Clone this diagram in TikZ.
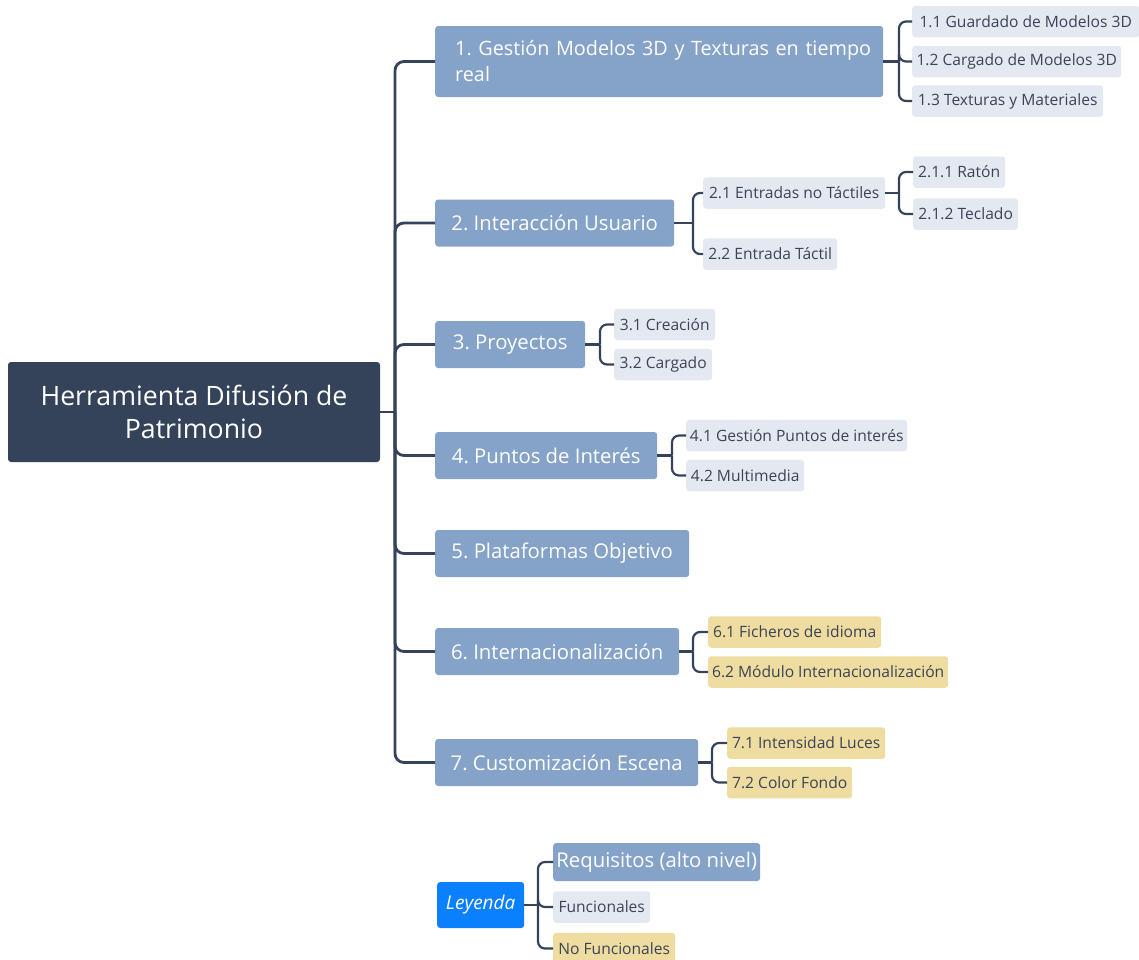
\documentclass[tikz,border=0pt]{standalone}
\usepackage{fontspec}
\setmainfont{Open Sans}
\definecolor{cDark}{HTML}{35435A}
\definecolor{cL1}{HTML}{85A2C9}
\definecolor{cSub}{HTML}{E4E9F1}
\definecolor{cYel}{HTML}{EEDCA0}
\definecolor{cTxt}{HTML}{3B4456}
\definecolor{cBlue}{HTML}{0A80FF}
\begin{document}
\frenchspacing
\begin{tikzpicture}[x=1pt,y=-1pt,
  rootbox/.style={fill=cDark, rounded corners=3pt, text=white, font=\fontsize{26.7}{33}\selectfont, align=center, minimum width=372pt, minimum height=100pt, inner sep=0pt},
  lvl/.style={fill=cL1, rounded corners=3pt, text=white, font=\fontsize{20.3}{26}\selectfont, anchor=west, minimum height=47pt, inner sep=0pt},
  sub/.style={fill=cSub, rounded corners=3pt, text=cTxt, font=\fontsize{15.6}{18}\selectfont, anchor=west, minimum height=31.5pt, inner sep=0pt},
  nfun/.style={sub, fill=cYel},
  conn/.style={draw=cDark, line width=2.2pt, rounded corners=7pt},
  trunk/.style={draw=cDark, line width=2.8pt, rounded corners=9pt}]
\useasboundingbox (0,0) rectangle (1139,959);
% root
\node[rootbox] (root) at (194,412) {Herramienta Difusión de\\Patrimonio};
% level 1
\node[lvl, text width=408pt, align=left, inner xsep=20pt, minimum height=71pt, font=\fontsize{19.8}{26}\selectfont] (n1) at (435,61.5) {\mbox{1. Gestión Modelos 3D y Texturas en tiempo}\\real};
\node[lvl, minimum width=239pt] (n2) at (435,223) {2. Interacción Usuario};
\node[lvl, minimum width=150pt] (n3) at (435,344.5) {3. Proyectos};
\node[lvl, minimum width=222pt] (n4) at (435,455.5) {4. Puntos de Interés};
\node[lvl, minimum width=254pt] (n5) at (435,553.5) {5. Plataformas Objetivo};
\node[lvl, minimum width=244pt] (n6) at (435,651.5) {6. Internacionalización};
\node[lvl, minimum width=263pt] (n7) at (435,762.5) {7. Customización Escena};
% level 2
\node[sub, minimum width=227pt] (s11) at (912,21.5) {1.1 Guardado de Modelos 3D};
\node[sub, minimum width=209pt] (s12) at (912,61.5) {1.2 Cargado de Modelos 3D};
\node[sub, minimum width=191pt] (s13) at (912,101) {1.3 Texturas y Materiales};
\node[sub, minimum width=182pt] (s21) at (703,193) {2.1 Entradas no Táctiles};
\node[sub, minimum width=134pt] (s22) at (703,254) {2.2 Entrada Táctil};
\node[sub, minimum width=92pt] (s211) at (913,172) {2.1.1 Ratón};
\node[sub, minimum width=105pt] (s212) at (913,214) {2.1.2 Teclado};
\node[sub, minimum width=101pt] (s31) at (614,324.5) {3.1 Creación};
\node[sub, minimum width=98pt] (s32) at (614,364.5) {3.2 Cargado};
\node[sub, minimum width=221pt] (s41) at (686,435.5) {4.1 Gestión Puntos de interés};
\node[sub, minimum width=118pt] (s42) at (686,475.5) {4.2 Multimedia};
\node[nfun, minimum width=173pt] (s61) at (708,632) {6.1 Ficheros de idioma};
\node[nfun, minimum width=240pt] (s62) at (708,672) {6.2 Módulo Internacionalización};
\node[nfun, minimum width=158pt] (s71) at (727,743) {7.1 Intensidad Luces};
\node[nfun, minimum width=125pt] (s72) at (727,782.5) {7.2 Color Fondo};
% legend
\node[fill=cBlue, rounded corners=3pt, text=white, font=\fontsize{19}{22}\selectfont\itshape, anchor=west, minimum width=87pt, minimum height=46pt, inner sep=0pt] (ley) at (437,905) {Leyenda};
\node[lvl, minimum width=207pt, minimum height=38pt] (req) at (553,862) {Requisitos (alto nivel)};
\node[sub, minimum width=97pt] (fun) at (553,907) {Funcionales};
\node[nfun, minimum width=122pt] (nofun) at (553,948.5) {No Funcionales};
% junction coordinates
\coordinate (jr) at (395,412);
\coordinate (j1) at (899,61.5);
\coordinate (j2) at (693,223);
\coordinate (j21) at (899,193);
\coordinate (j3) at (600,344.5);
\coordinate (j4) at (672,455.5);
\coordinate (j6) at (693,651.5);
\coordinate (j7) at (712,762.5);
\coordinate (jl) at (538,905);
% trunk
\draw[trunk] (root.east) -- (jr);
\foreach \n in {n1,n2,n3,n4,n5,n6,n7} \draw[trunk] (jr) |- (\n.west);
% sub connectors
\draw[conn] (n1.east) -- (j1);
\foreach \n in {s11,s12,s13} \draw[conn] (j1) |- (\n.west);
\draw[conn] (n2.east) -- (j2);
\foreach \n in {s21,s22} \draw[conn] (j2) |- (\n.west);
\draw[conn] (s21.east) -- (j21);
\foreach \n in {s211,s212} \draw[conn] (j21) |- (\n.west);
\draw[conn] (n3.east) -- (j3);
\foreach \n in {s31,s32} \draw[conn] (j3) |- (\n.west);
\draw[conn] (n4.east) -- (j4);
\foreach \n in {s41,s42} \draw[conn] (j4) |- (\n.west);
\draw[conn] (n6.east) -- (j6);
\foreach \n in {s61,s62} \draw[conn] (j6) |- (\n.west);
\draw[conn] (n7.east) -- (j7);
\foreach \n in {s71,s72} \draw[conn] (j7) |- (\n.west);
\draw[conn] (ley.east) -- (jl);
\foreach \n in {req,fun,nofun} \draw[conn] (jl) |- (\n.west);
\end{tikzpicture}
\end{document}
